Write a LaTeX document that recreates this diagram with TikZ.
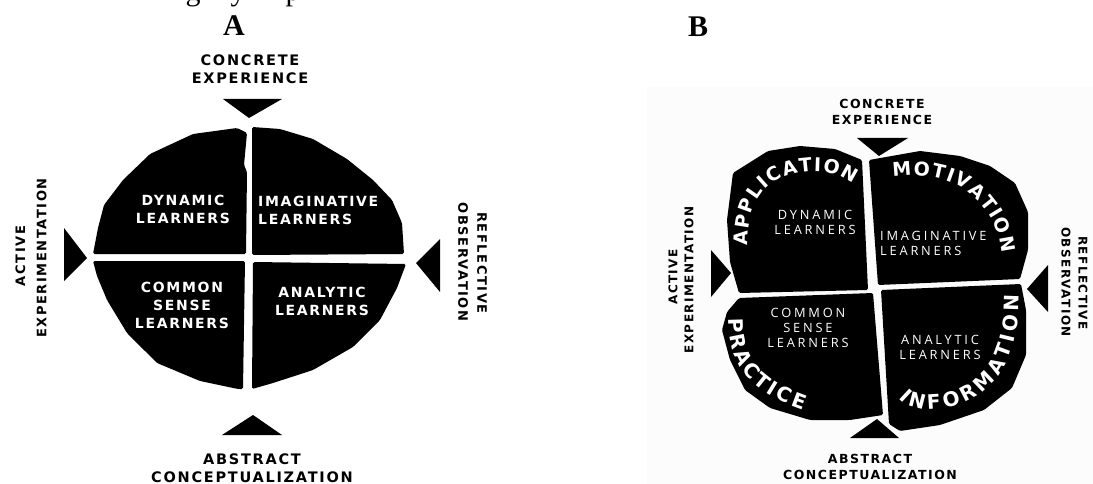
\documentclass[tikz,border=0pt]{standalone}
\usepackage{fontspec}
\setmainfont{Liberation Serif}
\newfontfamily\hdfont[LetterSpace=12]{DejaVu Sans}
\newfontfamily\cvfont{DejaVu Sans}
\newfontfamily\ltfont[LetterSpace=22]{Open Sans}
\usetikzlibrary{decorations.text}
\tikzset{
  quad/.style={fill=black, rounded corners=1.5pt},
  tri/.style={fill=black},
  lblA/.style={inner sep=0, font=\hdfont\bfseries\fontsize{14.5}{16}\selectfont},
  lblAv/.style={inner sep=0, font=\hdfont\bfseries\fontsize{13}{15}\selectfont},
  lblB/.style={inner sep=0, font=\hdfont\bfseries\fontsize{12.5}{14}\selectfont},
  lblBv/.style={inner sep=0, font=\hdfont\bfseries\fontsize{12}{14}\selectfont},
  inA/.style={inner sep=0, text=white, font=\hdfont\bfseries\fontsize{14}{18}\selectfont},
  inB/.style={inner sep=0, text=white, font=\ltfont\fontsize{12.8}{15}\selectfont},
  panel/.style={inner sep=0, font=\bfseries\fontsize{30}{30}\selectfont},
  frag/.style={inner sep=0, anchor=base, font=\fontsize{30}{30}\selectfont}
}
\begin{document}
\begin{tikzpicture}[x=1pt,y=-1pt]
\useasboundingbox (0,0) rectangle (1093,484);
\fill[black!1.2] (647,87) rectangle (1093,484);
% clipped caption fragments
\node[frag] (f1) at (193,0.5) {g};
\node[frag] (f2) at (238,0.5) {y};
\node[frag] (f3) at (293,0.5) {p};
% panel labels
\node[panel] (labA) at (234,25.5) {A};
\node[panel] (labB) at (698,26.5) {B};

% ================= Panel A =================
\fill[quad] (93,254) -- (98,228) -- (104,205) -- (123,180) -- (150,154) -- (193,134) -- (237,128) -- (247,133) -- (244,165) -- (247,172) -- (246,254) -- cycle;
\fill[quad] (252,127) -- (280,129) -- (313,139) -- (347,159) -- (373,180) -- (392,200) -- (402,223) -- (404,254) -- (252,255) -- cycle;
\fill[quad] (253,262) -- (406,264) -- (397,288) -- (380,320) -- (353,347) -- (313,370) -- (273,383) -- (252,389) -- cycle;
\fill[quad] (93,261) -- (245,261) -- (243,389) -- (238,389) -- (200,381) -- (157,363) -- (127,333) -- (107,300) -- (97,276) -- cycle;

\fill[tri] (223,99) -- (282,99) -- (249,118) -- cycle;
\fill[tri] (222,435) -- (282,435) -- (253,415) -- cycle;
\fill[tri] (64,228) -- (64,281) -- (87,258) -- cycle;
\fill[tri] (440,239) -- (440,292) -- (416,263) -- cycle;

\node[lblA] (ceA1) at (250,60) {CONCRETE};
\node[lblA] (ceA2) at (250,78) {EXPERIENCE};
\node[lblA] (acA1) at (252,459) {ABSTRACT};
\node[lblA] (acA2) at (252,477) {CONCEPTUALIZATION};
\node[lblAv, rotate=90] (aeA1) at (20.5,256) {ACTIVE};
\node[lblAv, rotate=90] (aeA2) at (41.7,258) {EXPERIMENTATION};
\node[lblAv, rotate=-90] (roA1) at (482,263) {REFLECTIVE};
\node[lblAv, rotate=-90] (roA2) at (463,262) {OBSERVATION};

\node[inA, align=center] (dynA) at (183,209) {DYNAMIC\\LEARNERS};
\node[inA, align=left, anchor=west] (imaA) at (258,210) {IMAGINATIVE\\LEARNERS};
\node[inA, align=center] (comA) at (182,305) {COMMON\\SENSE\\LEARNERS};
\node[inA, align=center] (anaA) at (322,301) {ANALYTIC\\LEARNERS};

% ================= Panel B =================
\fill[quad] (733,173) -- (768,151) -- (800,146) -- (835,149) -- (862,160) -- (868,290) -- (739,293) -- (730,262) -- (727,220) -- cycle;
\fill[quad] (869,160) -- (920,151) -- (960,156) -- (990,166) -- (1015,183) -- (1028,212) -- (1028,250) -- (1020,279) -- (878,285) -- cycle;
\fill[quad] (881,290) -- (1021,284) -- (1026,310) -- (1026,355) -- (1012,388) -- (984,410) -- (940,425) -- (900,431) -- (889,424) -- cycle;
\fill[quad] (739,298) -- (873,293) -- (883,415) -- (850,420) -- (810,420) -- (770,408) -- (745,390) -- (730,360) -- (722,330) -- (727,312) -- cycle;

\fill[tri] (857,138) -- (908,138) -- (879,156) -- cycle;
\fill[tri] (850,438) -- (899,438) -- (877,419) -- cycle;
\fill[tri] (711,250) -- (711,297) -- (731,273) -- cycle;
\fill[tri] (1048,265) -- (1048,312) -- (1027,289) -- cycle;

\node[lblB] (ceB1) at (882,104) {CONCRETE};
\node[lblB] (ceB2) at (882,120) {EXPERIENCE};
\node[lblB] (acB1) at (870,459) {ABSTRACT};
\node[lblB] (acB2) at (870,475) {CONCEPTUALIZATION};
\node[lblBv, rotate=90] (aeB1) at (673,277) {ACTIVE};
\node[lblBv, rotate=90] (aeB2) at (689,280) {EXPERIMENTATION};
\node[lblBv, rotate=-90] (roB1) at (1083,283) {REFLECTIVE};
\node[lblBv, rotate=-90] (roB2) at (1066,282) {OBSERVATION};

\node[inB, align=center] (dynB) at (815,222) {DYNAMIC\\LEARNERS};
\node[inB, align=left, anchor=west] (imaB) at (880,243) {IMAGINATIVE\\LEARNERS};
\node[inB, align=center] (comB) at (808,328) {COMMON\\SENSE\\LEARNERS};
\node[inB, align=center] (anaB) at (940,347) {ANALYTIC\\LEARNERS};

% curved words
\path[decorate, decoration={text along path, text align=fit to path,
  text={|\color{white}\cvfont\bfseries\fontsize{19}{19}\selectfont|APPLICATION}}]
  (748,246) .. controls (748,205) and (760,180) .. (800,173) .. controls (825,169) and (840,175) .. (853,184);
\path[decorate, decoration={text along path, text align=fit to path,
  text={|\color{white}\cvfont\bfseries\fontsize{19}{19}\selectfont|MOTIVATION}}]
  (893,177) .. controls (930,172) and (960,180) .. (980,203) .. controls (995,220) and (1001,238) .. (1002,253);
\path[decorate, decoration={text along path, text align=fit to path,
  text={|\color{white}\cvfont\bfseries\fontsize{20}{20}\selectfont|INFORMATION}}]
  (899,398) .. controls (915,418) and (960,410) .. (984,391) .. controls (1010,370) and (1019,335) .. (1019,295);
\path[decorate, decoration={text along path, text align=fit to path,
  text={|\color{white}\cvfont\bfseries\fontsize{20}{20}\selectfont|PRACTICE}}]
  (729,318) .. controls (728,360) and (745,390) .. (803,410);
\end{tikzpicture}
\end{document}
